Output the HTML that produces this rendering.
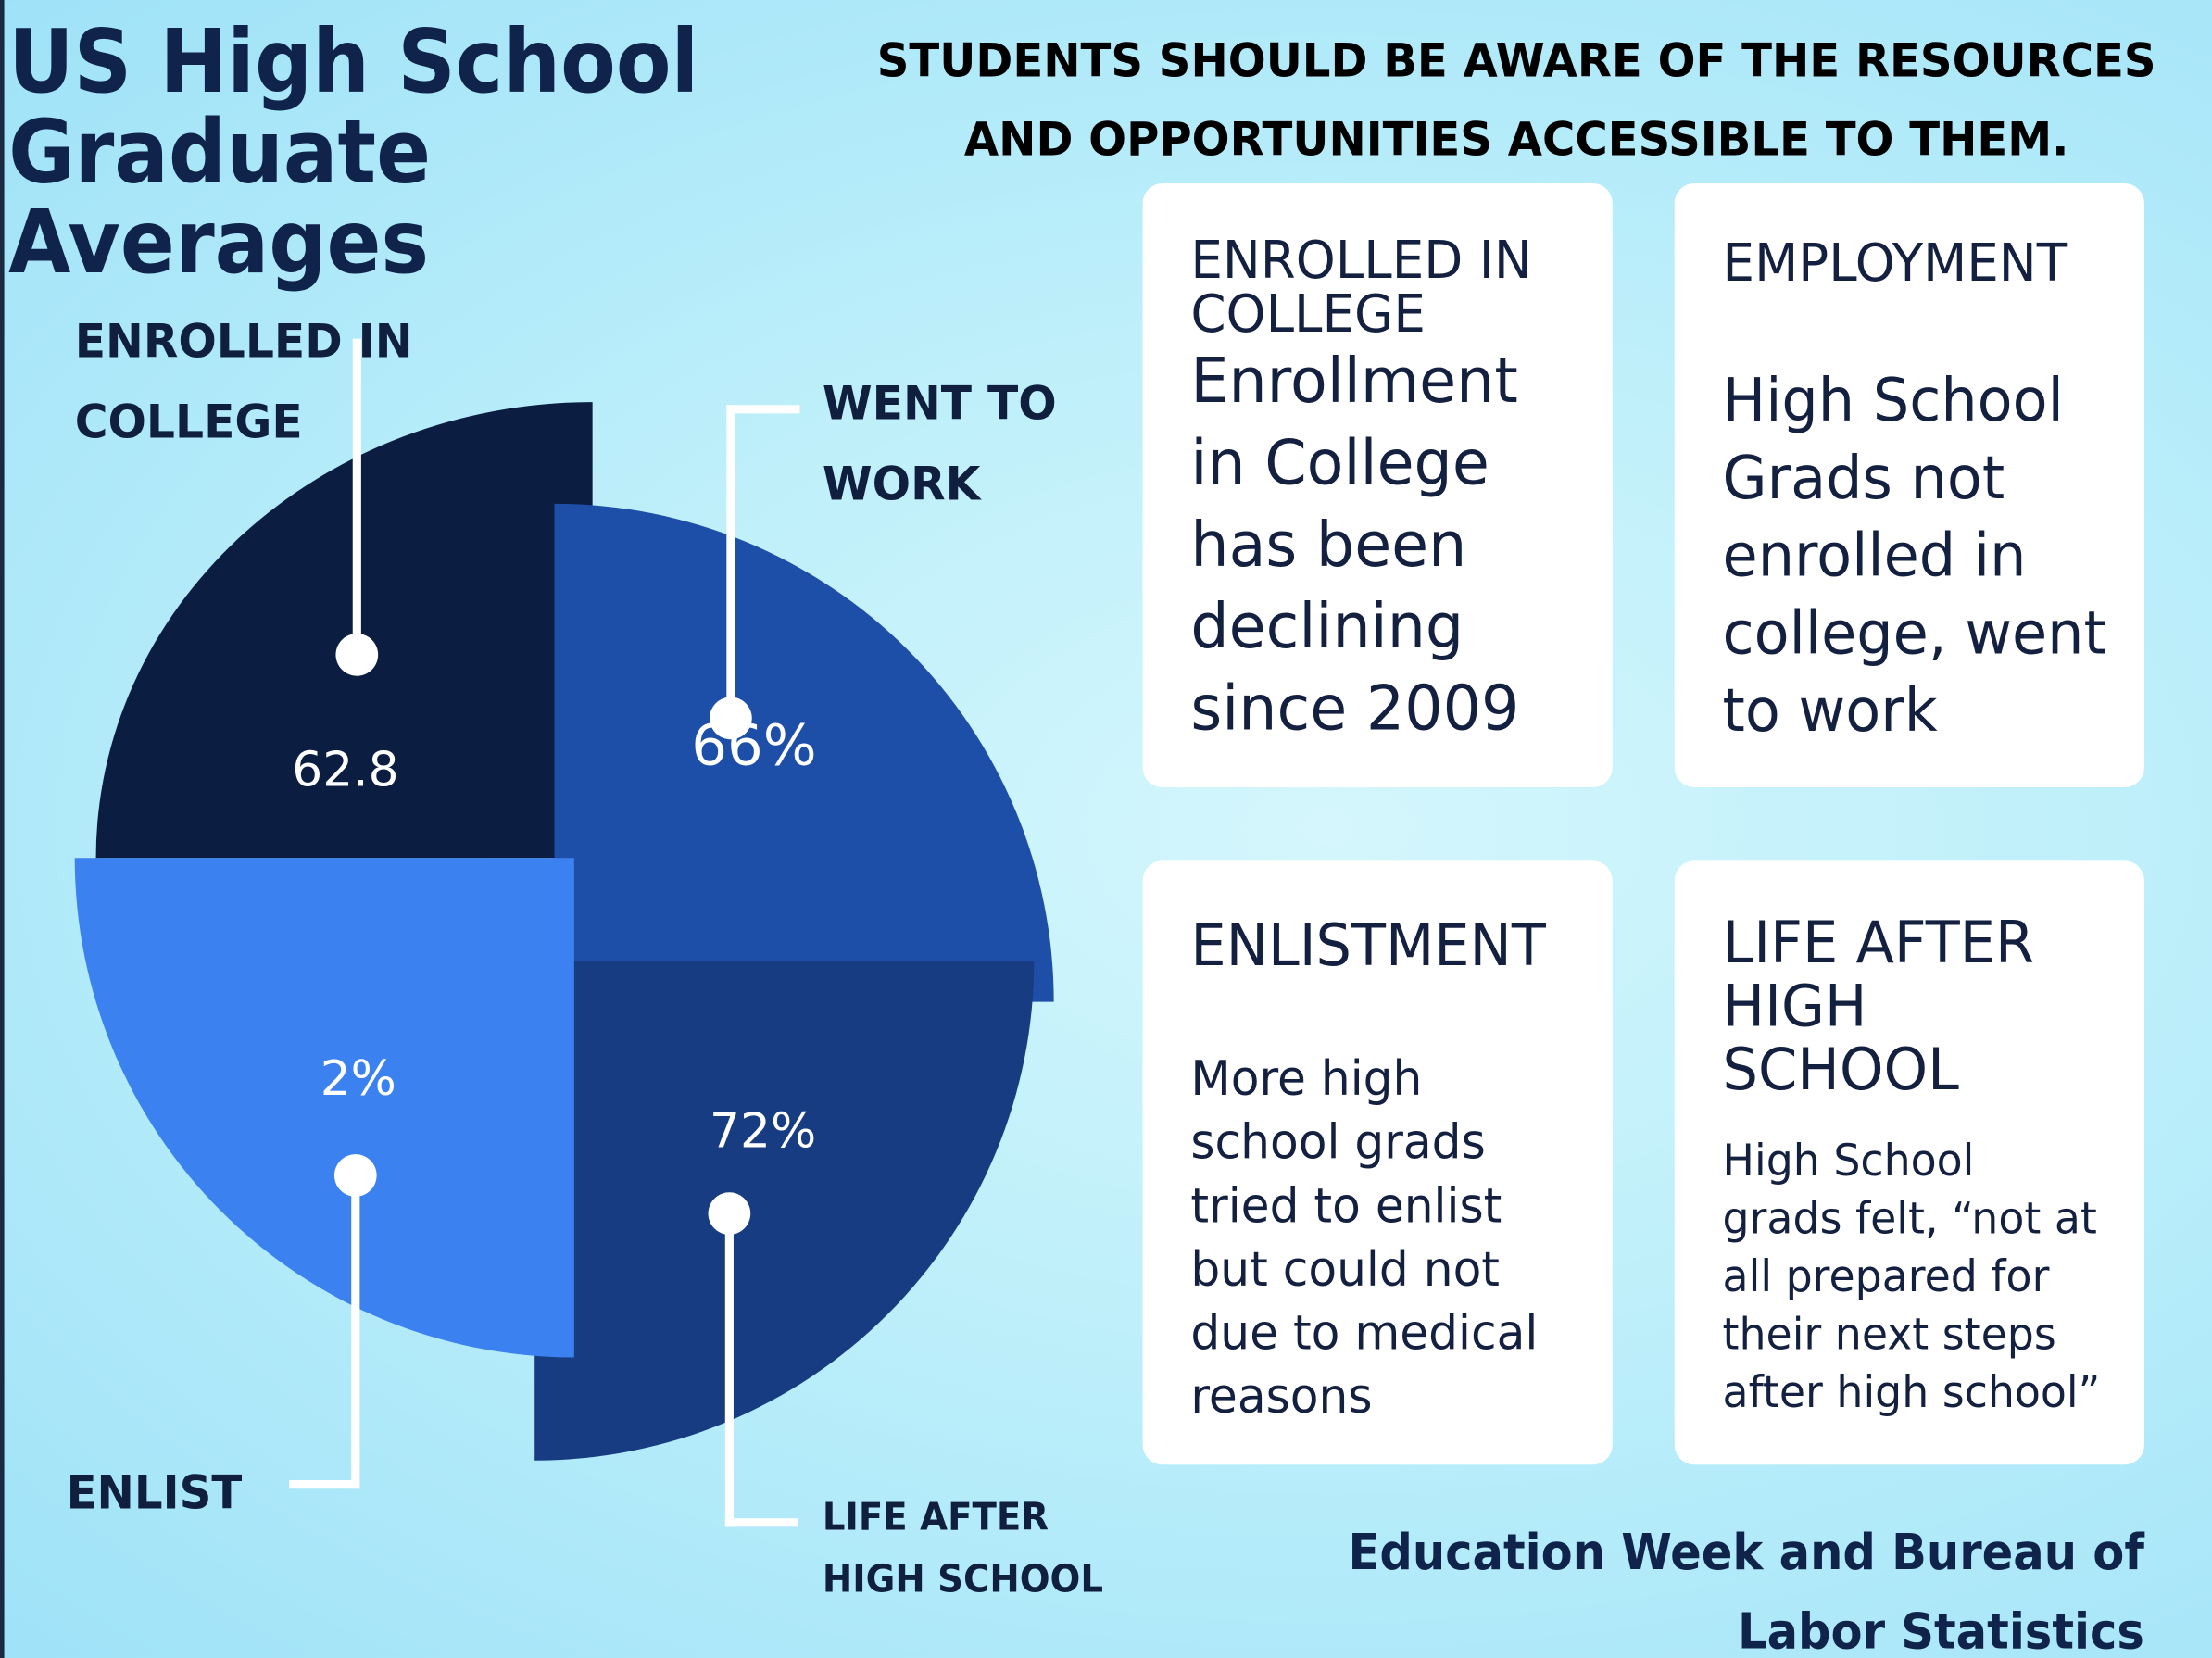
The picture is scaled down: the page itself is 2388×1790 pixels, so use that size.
<!DOCTYPE html>
<html><head><meta charset="utf-8"><style>
html,body{margin:0;padding:0;width:2388px;height:1790px;overflow:hidden}
#w{width:1568px;height:1175px;transform:scale(1.52296,1.52340);transform-origin:0 0;position:relative;
background:radial-gradient(ellipse at 60% 50%,#d4f6fc 0%,#bdeffa 45%,#9fe2f8 100%);
font-family:"Liberation Sans","DejaVu Sans",sans-serif;color:#0f1f3d;overflow:hidden}
.a{position:absolute}
.b{font-family:"DejaVu Sans",sans-serif;font-weight:bold}
.card{position:absolute;background:#fff;border-radius:14px;width:333px;height:428px}
.ct{position:absolute;left:34px;font-family:"DejaVu Sans",sans-serif;color:#13203f;transform:scaleX(0.97);transform-origin:0 0;white-space:nowrap}
.ln{position:absolute;background:#fff}
.dot{position:absolute;width:30px;height:30px;border-radius:50%;background:#fff}
.lab{position:absolute;color:#fff;font-family:"DejaVu Sans",sans-serif;font-size:34px}
</style></head><body><div id="w">
<div class="a" style="left:0;top:0;width:3px;height:1175px;background:#1a2a40"></div>
<div class="a b" style="left:6px;top:12px;font-size:62px;line-height:64px;color:#10234a;transform:scaleX(0.92);transform-origin:0 0;white-space:nowrap">US High School<br>Graduate<br>Averages</div>
<div class="a b" style="left:600px;top:15px;width:950px;text-align:center;font-size:33px;line-height:56px;color:#000;transform:scaleX(0.958);transform-origin:50% 0;white-space:nowrap">STUDENTS SHOULD BE AWARE OF THE RESOURCES<br>AND OPPORTUNITIES ACCESSIBLE TO THEM.</div>

<div class="a" style="left:68px;top:285px;width:352px;height:323px;background:#0b1e42;border-top-left-radius:352px 323px"></div>
<div class="a" style="left:393px;top:357px;width:354px;height:353px;background:#1e4fa8;border-top-right-radius:354px 353px"></div>
<div class="a" style="left:379px;top:681px;width:354px;height:354px;background:#173c82;border-bottom-right-radius:354px"></div>
<div class="a" style="left:53px;top:608px;width:354px;height:354px;background:#3b82f0;border-bottom-left-radius:354px"></div>

<div class="ln" style="left:250px;top:240px;width:6px;height:225px"></div><div class="dot" style="left:238px;top:449px"></div>
<div class="ln" style="left:515px;top:287px;width:52px;height:6px"></div><div class="ln" style="left:515px;top:287px;width:6px;height:223px"></div><div class="dot" style="left:503px;top:494px"></div>
<div class="ln" style="left:249px;top:833px;width:6px;height:222px"></div><div class="ln" style="left:205px;top:1049px;width:50px;height:6px"></div><div class="dot" style="left:237px;top:818px"></div>
<div class="ln" style="left:514px;top:860px;width:6px;height:222px"></div><div class="ln" style="left:514px;top:1076px;width:52px;height:6px"></div><div class="dot" style="left:502px;top:845px"></div>

<div class="lab" style="left:207px;top:526px">62.8</div>
<div class="lab" style="left:490px;top:506px;font-size:40px">66%</div>
<div class="lab" style="left:227px;top:745px">2%</div>
<div class="lab" style="left:503px;top:782px">72%</div>

<div class="a b" style="left:53px;top:213px;font-size:33px;line-height:57px;transform:scaleX(0.97);transform-origin:0 0;white-space:nowrap">ENROLLED IN<br>COLLEGE</div>
<div class="a b" style="left:583px;top:257px;font-size:33px;line-height:57px;transform:scaleX(0.97);transform-origin:0 0;white-space:nowrap">WENT TO<br>WORK</div>
<div class="a b" style="left:47px;top:1038px;font-size:33px;transform:scaleX(0.96);transform-origin:0 0">ENLIST</div>
<div class="a b" style="left:583px;top:1054px;font-size:27px;line-height:44px;transform:scaleX(0.94);transform-origin:0 0;white-space:nowrap">LIFE AFTER<br>HIGH SCHOOL</div>

<div class="card" style="left:810px;top:130px">
<div class="ct" style="top:36px;font-size:37px;line-height:38px">ENROLLED IN<br>COLLEGE</div>
<div class="ct" style="top:112px;font-size:44px;line-height:58px">Enrollment<br>in College<br>has been<br>declining<br>since 2009</div></div>
<div class="card" style="left:1187px;top:130px">
<div class="ct" style="top:35px;font-size:37px">EMPLOYMENT</div>
<div class="ct" style="top:126px;font-size:42px;line-height:55px">High School<br>Grads not<br>enrolled in<br>college, went<br>to work</div></div>
<div class="card" style="left:810px;top:610px">
<div class="ct" style="top:36px;font-size:41px">ENLISTMENT</div>
<div class="ct" style="top:133px;font-size:34px;line-height:45px">More high<br>school grads<br>tried to enlist<br>but could not<br>due to medical<br>reasons</div></div>
<div class="card" style="left:1187px;top:610px">
<div class="ct" style="top:36px;font-size:41px;line-height:45px">LIFE AFTER<br>HIGH<br>SCHOOL</div>
<div class="ct" style="top:193px;font-size:31px;line-height:41px">High School<br>grads felt, “not at<br>all prepared for<br>their next steps<br>after high school”</div></div>

<div class="a b" style="left:900px;top:1073px;width:620px;text-align:right;font-size:35px;line-height:56px;color:#10234a;transform:scaleX(0.93);transform-origin:100% 0;white-space:nowrap">Education Week and Bureau of<br>Labor Statistics</div>
</div></body></html>
